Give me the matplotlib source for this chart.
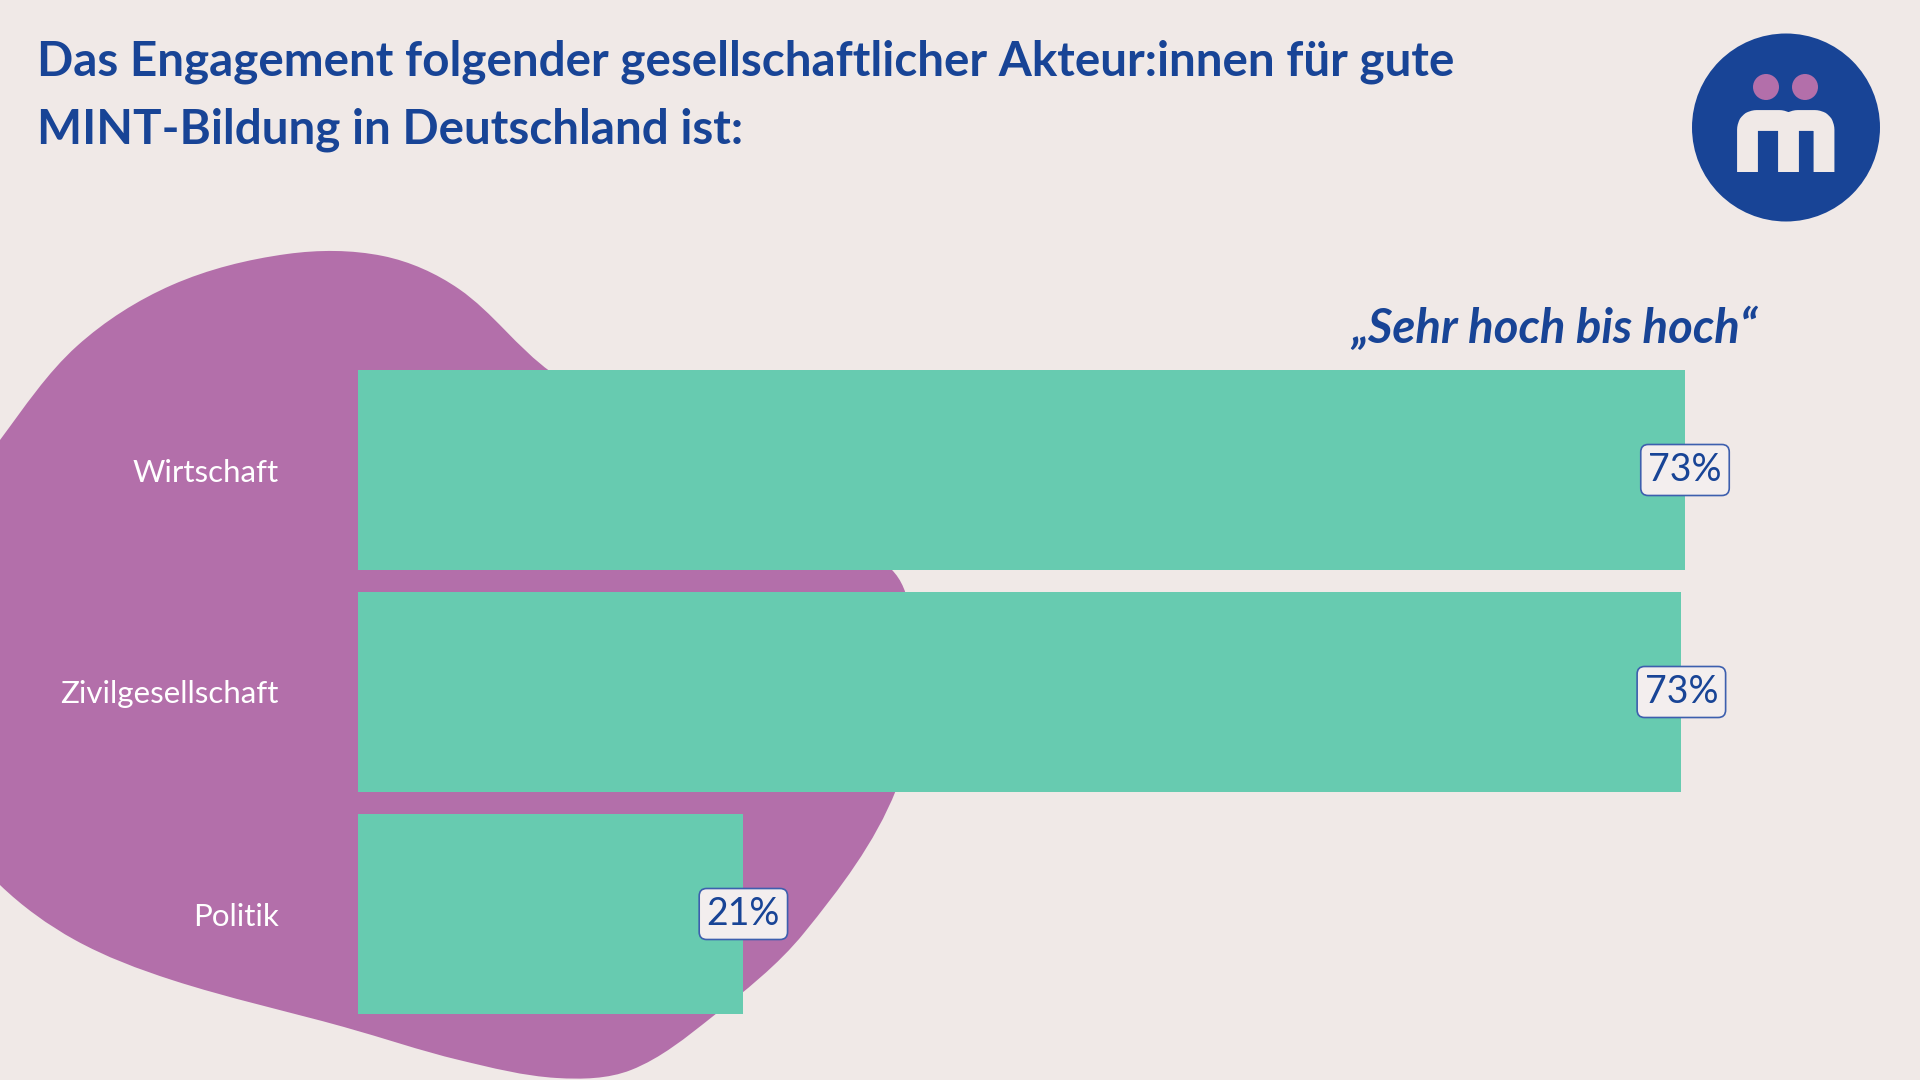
import numpy as np
import matplotlib.pyplot as plt
from matplotlib.path import Path
from matplotlib.patches import PathPatch, Circle

# Daten
akteure = ["Wirtschaft", "Zivilgesellschaft", "Politik"]
werte = [73.0, 72.8, 21.2]

titel_1 = "Das Engagement folgender gesellschaftlicher Akteur:innen für gute"
titel_2 = "MINT-Bildung in Deutschland ist:"
untertitel = "„Sehr hoch bis hoch“"

# Farben
hintergrund = "#f0e9e7"
lila = "#b36faa"
gruen = "#67cbb0"
blau = "#184496"

plt.rcParams["font.family"] = ["Lato", "DejaVu Sans"]

fig = plt.figure(figsize=(19.2, 10.8), dpi=100, facecolor=hintergrund)

# Hintergrund-Achse in Pixelkoordinaten (Deko: Blob + Logo)
bg = fig.add_axes([0, 0, 1, 1])
bg.set_xlim(0, 1920)
bg.set_ylim(1080, 0)
bg.axis("off")


def glatter_pfad(punkte):
    # geschlossene glatte Kurve durch die Punkte (Tangenten nach Sehnenlänge skaliert)
    p = np.array(punkte, dtype=float)
    n = len(p)
    tang = []
    for i in range(n):
        t = p[(i + 1) % n] - p[i - 1]
        tang.append(t / np.linalg.norm(t))
    verts = [p[0]]
    codes = [Path.MOVETO]
    for i in range(n):
        a, b = p[i], p[(i + 1) % n]
        d = np.linalg.norm(b - a) / 3
        verts += [a + tang[i] * d, b - tang[(i + 1) % n] * d, b]
        codes += [Path.CURVE4] * 3
    return Path(verts, codes)


blob = [(-60, 530), (0, 440), (77, 346), (172, 285), (287, 254), (383, 256),
        (459, 289), (551, 372), (720, 475), (891, 569), (912, 660), (896, 790),
        (804, 933), (712, 1017), (631, 1070), (557, 1078), (459, 1060),
        (344, 1027), (172, 980), (75, 940), (0, 885), (-60, 810)]
bg.add_patch(PathPatch(glatter_pfad(blob), facecolor=lila, edgecolor="none", zorder=1))

# Logo
bg.add_patch(Circle((1786, 127.5), 94, facecolor=blau, edgecolor="none", zorder=2))
bg.add_patch(Circle((1766, 87), 13, facecolor=lila, edgecolor="none", zorder=3))
bg.add_patch(Circle((1805, 87), 13, facecolor=lila, edgecolor="none", zorder=3))
m_verts = [(1747.5, 172), (1747.5, 130), (1747.5, 120.5), (1757, 120.5),
           (1779, 120.5), (1788.5, 120.5), (1788.5, 130), (1788.5, 172),
           (1788.5, 130), (1788.5, 120.5), (1798, 120.5),
           (1814.5, 120.5), (1824, 120.5), (1824, 130), (1824, 172)]
m_codes = [Path.MOVETO, Path.LINETO, Path.CURVE3, Path.CURVE3,
           Path.LINETO, Path.CURVE3, Path.CURVE3, Path.LINETO,
           Path.MOVETO, Path.CURVE3, Path.CURVE3,
           Path.LINETO, Path.CURVE3, Path.CURVE3, Path.LINETO]
bg.add_patch(PathPatch(Path(m_verts, m_codes), facecolor="none", edgecolor=hintergrund,
                       linewidth=15, capstyle="butt", joinstyle="round", zorder=3))

# Balken-Achse
px_links, px_rechts = 358, 1760
px_pro_prozent = (1685 - 358) / 73
ax = fig.add_axes([px_links / 1920, 1 - 1025 / 1080, (px_rechts - px_links) / 1920, (1025 - 359) / 1080])
ax.set_facecolor("none")
y = np.arange(len(akteure))
ax.barh(y, werte, height=0.9, color=gruen, zorder=2)
ax.set_xlim(0, (px_rechts - px_links) / px_pro_prozent)
ax.set_ylim(len(akteure) - 0.5, -0.5)
ax.set_yticks(y, akteure)
ax.set_xticks([])
ax.tick_params(axis="y", length=0, pad=57, labelsize=22.5, labelcolor="white")
for s in ax.spines.values():
    s.set_visible(False)

for i, v in enumerate(werte):
    ax.text(v, i, f"{v:.0f}%", ha="center", va="center", fontsize=27, color=blau, zorder=4,
            bbox=dict(boxstyle="round,pad=0.2,rounding_size=0.2", facecolor="#f3eeee",
                      edgecolor="#3d5fae", linewidth=1.2))

# Texte
fig.text(37 / 1920, 1 - 76 / 1080, titel_1, ha="left", va="baseline", fontsize=34.3,
         fontweight="bold", color=blau)
fig.text(37 / 1920, 1 - 144 / 1080, titel_2, ha="left", va="baseline", fontsize=34.3,
         fontweight="bold", color=blau)
fig.text(1757 / 1920, 1 - 343 / 1080, untertitel, ha="right", va="baseline", fontsize=34,
         fontweight="bold", fontstyle="italic", color=blau)

fig.savefig("out.png", dpi=100, facecolor=hintergrund)
